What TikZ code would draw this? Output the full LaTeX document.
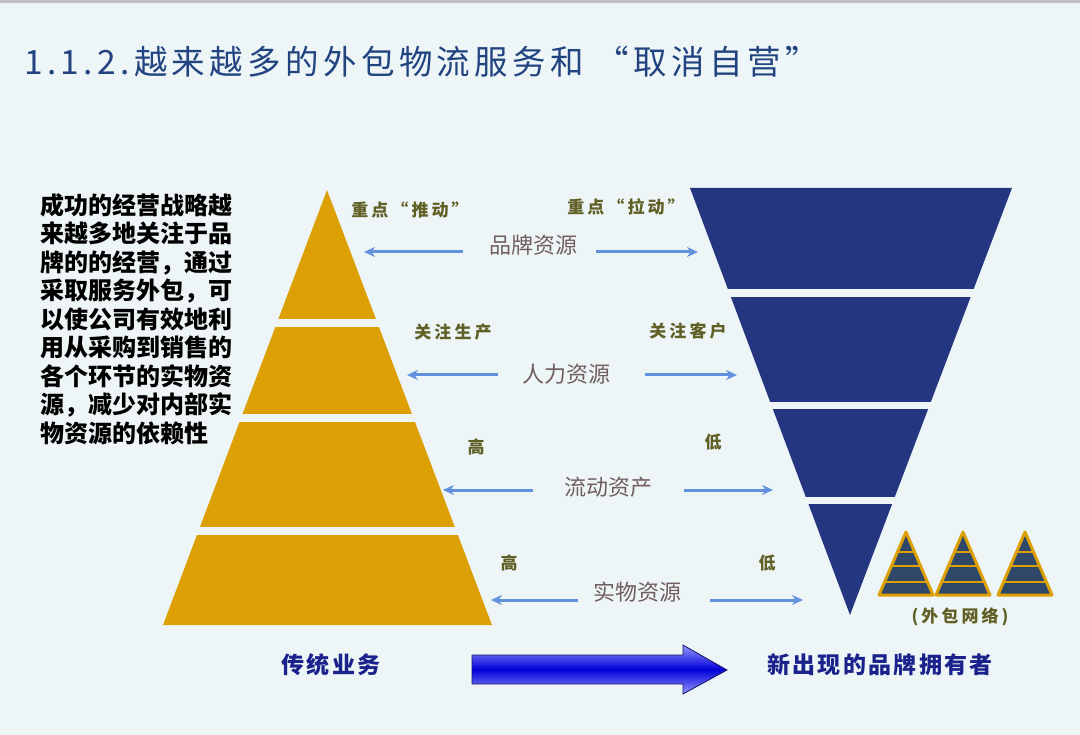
\documentclass[tikz,border=0pt]{standalone}
\usepackage{fontspec}
\newfontfamily\cjk{Noto Sans CJK SC}
\newfontfamily\cjktag[LetterSpace=18]{Noto Sans CJK SC}
\newfontfamily\cjkhead[LetterSpace=13]{Noto Sans CJK SC}
\newfontfamily\cjkbiz[LetterSpace=10]{Noto Sans CJK SC}
\usetikzlibrary{arrows.meta,positioning}
\definecolor{bgblue}{RGB}{238,245,247}
\definecolor{pyrgold}{RGB}{220,160,4}
\definecolor{pyrnavy}{RGB}{37,54,128}
\definecolor{netslate}{RGB}{47,72,105}
\definecolor{titleblue}{RGB}{33,68,128}
\definecolor{olivetext}{RGB}{96,96,38}
\definecolor{restext}{RGB}{112,94,94}
\definecolor{arrowblue}{RGB}{98,146,222}
\definecolor{bizblue}{RGB}{26,34,140}
\definecolor{shaftlight}{RGB}{150,150,255}
\definecolor{shaftdeep}{RGB}{0,0,215}

\tikzset{
  resarrow/.style={arrowblue, line width=3pt, -{Stealth[length=11pt,width=10pt]}},
  sidetag/.style={inner sep=0pt, text=olivetext, font=\cjktag\bfseries\fontsize{17}{20}\selectfont},
  restag/.style={inner sep=0pt, text=restext, font=\cjk\fontsize{22}{26}\selectfont},
  biztag/.style={inner sep=0pt, text=bizblue, font=\cjkbiz\bfseries\fontsize{23}{27}\selectfont},
}

\begin{document}
\begin{tikzpicture}[x=1pt,y=-1pt]
        \fill[bgblue] (0,0) rectangle (1080,735);
        \fill[black!25] (0,0) rectangle (1080,3);
        \useasboundingbox (0,0) rectangle (1080,735);
        % title
        \node[anchor=west,inner sep=0pt,text=titleblue,font=\cjkhead\fontsize{33.5}{40}\selectfont] (title) at (24,62)
            {1.1.2.越来越多的外包物流服务和 “取消自营”};
        % left text block
        \node[anchor=north west,inner sep=0pt,align=left,font=\cjk\bfseries\fontsize{24}{28.5}\selectfont] (claim) at (40,193)
            {成功的经营战略越\\来越多地关注于品\\牌的的经营，通过\\采取服务外包，可\\以使公司有效地利\\用从采购到销售的\\各个环节的实物资\\源，减少对内部实\\物资源的依赖性};
        % traditional pyramid
        \begin{scope}
            \clip (327,190) -- (492,625) -- (163,625) -- cycle;
            \fill[pyrgold] (150,185) rectangle (500,319);
            \fill[pyrgold] (150,327) rectangle (500,414);
            \fill[pyrgold] (150,422) rectangle (500,527);
            \fill[pyrgold] (150,535) rectangle (500,630);
        \end{scope}
        % brand owner funnel
        \begin{scope}
            \clip (690,188) -- (1012,188) -- (850,615) -- cycle;
            \fill[pyrnavy] (680,185) rectangle (1020,289);
            \fill[pyrnavy] (680,297) rectangle (1020,402);
            \fill[pyrnavy] (680,409) rectangle (1020,497);
            \fill[pyrnavy] (680,504) rectangle (1020,620);
        \end{scope}
        % outsourcing network
        \foreach \cx in {906,963,1025} {
            \begin{scope}
                \clip (\cx,532) -- (\cx+27,595) -- (\cx-27,595) -- cycle;
                \fill[netslate] (\cx-30,530) rectangle (\cx+30,597);
                \foreach \sy in {552,566,582}
                    \draw[pyrgold,line width=2.6pt] (\cx-30,\sy) -- (\cx+30,\sy);
            \end{scope}
            \draw[pyrgold,line width=3pt,line join=round] (\cx,532) -- (\cx+27,595) -- (\cx-27,595) -- cycle;
        }
        \node[sidetag] (network) at (960,617) {(外包网络)};
        % side tags
        \node[sidetag] (push) at (410,210) {重点“推动”};
        \node[sidetag] (pull) at (626,207) {重点“拉动”};
        \node[sidetag] (prod) at (453,332) {关注生产};
        \node[sidetag] (cust) at (688,331) {关注客户};
        \node[sidetag] (highA) at (476,447) {高};
        \node[sidetag] (lowA) at (713,442) {低};
        \node[sidetag] (highB) at (509,563) {高};
        \node[sidetag] (lowB) at (767,563) {低};
        % resources and their arrows
        \node[restag] (brand) at (533,245) {品牌资源};
        \node[restag] (human) at (566,374) {人力资源};
        \node[restag] (liquid) at (608,487) {流动资产};
        \node[restag] (physical) at (637,592) {实物资源};
        \coordinate (brandL) at (364,252);
        \coordinate (brandR) at (698,252);
        \coordinate (humanL) at (407,375);
        \coordinate (humanR) at (737,375);
        \coordinate (liquidL) at (443,490);
        \coordinate (liquidR) at (773,490);
        \coordinate (physicalL) at (491,600);
        \coordinate (physicalR) at (803,600);
        \draw[resarrow] (brandL -| 463,0) -- (brandL);
        \draw[resarrow] (brandR -| 596,0) -- (brandR);
        \draw[resarrow] (humanL -| 498,0) -- (humanL);
        \draw[resarrow] (humanR -| 645,0) -- (humanR);
        \draw[resarrow] (liquidL -| 533,0) -- (liquidL);
        \draw[resarrow] (liquidR -| 684,0) -- (liquidR);
        \draw[resarrow] (physicalL -| 578,0) -- (physicalL);
        \draw[resarrow] (physicalR -| 710,0) -- (physicalR);
        % bottom captions and the shift arrow
        \node[biztag] (old) at (331,665) {传统业务};
        \node[biztag] (new) at (880,665) {新出现的品牌拥有者};
        \path[draw=bizblue!70!black,line width=0.8pt,top color=shaftlight,bottom color=shaftlight,middle color=shaftdeep]
            (472,655) -- (683,655) -- (683,645) -- (727,670) -- (683,694) -- (683,684) -- (472,684) -- cycle;
    \end{tikzpicture}
\end{document}
